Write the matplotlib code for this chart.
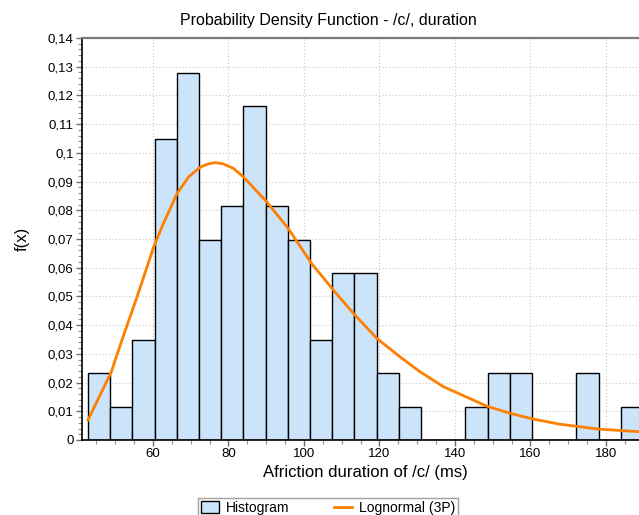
import numpy as np
import matplotlib
matplotlib.use("Agg")
import matplotlib.pyplot as plt
from matplotlib.ticker import MultipleLocator, FuncFormatter

plt.rcParams["font.family"] = ["Liberation Sans", "DejaVu Sans"]

# ----------------------------------------------------------
# data
# ----------------------------------------------------------
bin_start = 42.8
bin_width = 5.88
hist_density = [0.0233, 0.0116, 0.0349, 0.1047, 0.1279, 0.0698, 0.0814,
                0.1163, 0.0814, 0.0698, 0.0349, 0.0581, 0.0581, 0.0233,
                0.0116, 0.0, 0.0, 0.0116, 0.0233, 0.0233, 0.0, 0.0,
                0.0233, 0.0, 0.0116]

fit_x = [42.8, 49.0, 50.0, 52.7, 55.8, 60.2, 62.4, 66.4, 69.5, 72.5, 74.5,
         76.4, 78.5, 81.3, 83.9, 90.1, 95.8, 102.0, 107.8, 113.5, 119.3,
         125.4, 130.7, 136.9, 148.4, 154.6, 160.7, 167.8, 178.0, 189.8]
fit_y = [0.0070, 0.0238, 0.0279, 0.0383, 0.0499, 0.0673, 0.0743, 0.0859,
         0.0917, 0.0950, 0.0961, 0.0966, 0.0962, 0.0946, 0.0917, 0.0830,
         0.0737, 0.0615, 0.0522, 0.0435, 0.0354, 0.0290, 0.0238, 0.0186,
         0.0118, 0.0093, 0.0073, 0.0055, 0.0038, 0.0028]

title = "Probability Density Function - /c/, duration"
xlabel = "Afriction duration of /c/ (ms)"
ylabel = "f(x)"

# ----------------------------------------------------------
# figure
# ----------------------------------------------------------
W, H = 639, 515
fig = plt.figure(figsize=(W / 100, H / 100), dpi=100)
# plot area runs past the right edge, as in the reference
ax = fig.add_axes([82 / W, (H - 440) / H, (649 - 82) / W, (440 - 38) / H])

lefts = bin_start + bin_width * np.arange(len(hist_density))
bars = ax.bar(lefts, hist_density, width=bin_width, align="edge",
              color="#CCE4FA", edgecolor="black", linewidth=1.0,
              label="Histogram", zorder=2)
line, = ax.plot(fit_x, fit_y, color="#FF7F00", lw=2.0,
                label="Lognormal (3P)", zorder=3)

ax.set_xlim(41.2, 191.4)
ax.set_ylim(0, 0.14)

ax.xaxis.set_major_locator(MultipleLocator(20))
ax.xaxis.set_minor_locator(MultipleLocator(5))
ax.yaxis.set_major_locator(MultipleLocator(0.01))
ax.yaxis.set_minor_locator(MultipleLocator(0.002))


def comma_fmt(v, pos):
    s = f"{v:.2f}".rstrip("0").rstrip(".")
    return s.replace(".", ",")


ax.yaxis.set_major_formatter(FuncFormatter(comma_fmt))
ax.tick_params(axis="both", which="major", length=4, width=1,
               color="#707070", labelsize=9.5, pad=2)
ax.tick_params(axis="both", which="minor", length=3, width=0.8,
               color="#909090")
ax.tick_params(top=False, right=False)

ax.grid(True, which="major", linestyle=(0, (1, 2)), color="#C8C8C8",
        linewidth=0.8, zorder=0)
ax.set_axisbelow(True)

ax.spines["left"].set_color("black")
ax.spines["left"].set_linewidth(1.2)
ax.spines["bottom"].set_color("black")
ax.spines["bottom"].set_linewidth(1.2)
ax.spines["top"].set_color("#7A7A7A")
ax.spines["top"].set_linewidth(1.6)
ax.spines["right"].set_visible(False)

ax.set_xlabel(xlabel, fontsize=12, labelpad=3)
ax.set_ylabel(ylabel, fontsize=12, labelpad=13)
fig.text(328 / W, 1 - 20 / H, title, ha="center", va="center", fontsize=11.5)

fig.legend(handles=[bars, line], labels=["Histogram", "Lognormal (3P)"],
           loc="upper center", bbox_to_anchor=(328 / W, 1 - 498 / H),
           ncol=2, fontsize=10, frameon=True, fancybox=False,
           edgecolor="#8A8A8A", handlelength=1.3, handleheight=0.9,
           columnspacing=3.2, borderpad=0.2, handletextpad=0.5,
           borderaxespad=0)

fig.savefig("out.png", dpi=100)
